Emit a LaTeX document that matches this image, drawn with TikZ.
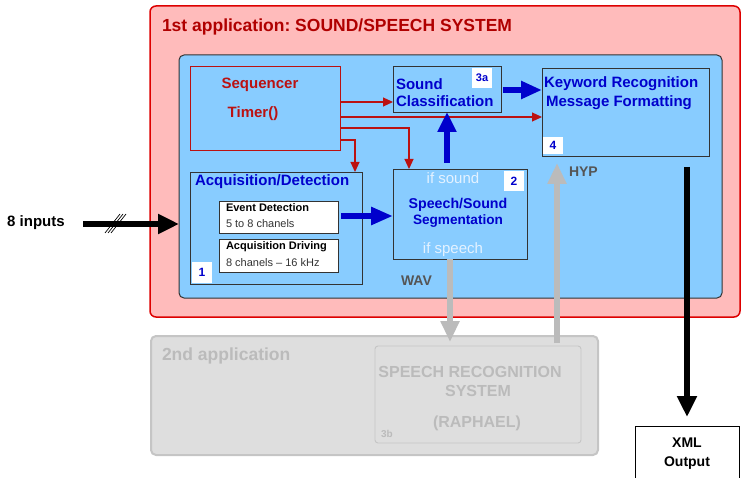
\documentclass[tikz,border=0pt]{standalone}
\usepackage{fontspec}
\setmainfont{Liberation Sans}
\usetikzlibrary{arrows.meta}

\definecolor{appfill}{HTML}{FFBBBB}
\definecolor{appline}{HTML}{DD0000}
\definecolor{apptext}{HTML}{B00000}
\definecolor{skyfill}{HTML}{88CCFF}
\definecolor{boxline}{HTML}{333333}
\definecolor{seqred}{HTML}{BB1111}
\definecolor{deepblue}{HTML}{0000CC}
\definecolor{softgray}{HTML}{BBBBBB}
\definecolor{greyfill}{HTML}{DEDEDE}
\definecolor{labelgray}{HTML}{555555}
\definecolor{paletext}{HTML}{E4F2FF}

\newcommand\fsz[1]{\fontsize{#1}{#1}\selectfont}

\tikzset{
  frame/.style={anchor=north west, inner sep=0, outer sep=0},
  plainbox/.style={frame, draw=boxline, line width=0.9},
  badge/.style={frame, fill=white, text=deepblue, font=\fsz{11}\bfseries},
  lbl/.style={inner sep=0, outer sep=0},
  bluelbl/.style={lbl, text=deepblue, font=\fsz{15}\bfseries},
  redarrow/.style={draw=seqred, line width=1.1, -{Triangle[length=10, width=9]}},
  bluearrow/.style={draw=deepblue, line width=6, -{Triangle[length=20, width=18]}},
  grayarrow/.style={draw=softgray, line width=6, -{Triangle[length=21, width=18]}},
  blackarrow/.style={draw=black, line width=6, -{Triangle[length=21, width=19]}},
}

\begin{document}
\frenchspacing
\begin{tikzpicture}[x=1pt, y=-1pt]
\useasboundingbox (0,0) rectangle (741,478);

% ---- first application frame
\node[frame, draw=appline, fill=appfill, line width=1.5, rounded corners=6,
      minimum width=590, minimum height=311] (app1) at (150,6) {};
\node[lbl, anchor=west, text=apptext, font=\fsz{17.5}\bfseries] (app1t) at (162,27)
  {1st application: SOUND/SPEECH SYSTEM};

\node[frame, draw=boxline, fill=skyfill, line width=1, rounded corners=5,
      minimum width=543, minimum height=243] (core) at (179,55) {};

% ---- sequencer
\node[frame, draw=seqred, line width=0.8, minimum width=150, minimum height=84] (seq) at (190,66) {};
\node[lbl, text=seqred, font=\fsz{15}\bfseries] (seqt) at (260,85) {Sequencer};
\node[lbl, text=seqred, font=\fsz{15}\bfseries] (timer) at (253,114) {Timer()};

% ---- sound classification
\node[plainbox, minimum width=108, minimum height=46] (cls) at (393,66) {};
\node[bluelbl, anchor=west] (clsa) at (396,84) {Sound};
\node[bluelbl, anchor=west] (clsb) at (396,101) {Classification};
\node[badge, minimum width=20, minimum height=20] (b3a) at (472,68) {3a};

% ---- keyword recognition
\node[plainbox, minimum width=167, minimum height=88] (kw) at (542,68) {};
\node[bluelbl, anchor=west] (kwa) at (544,84) {Keyword Recognition};
\node[bluelbl, anchor=west] (kwb) at (546,103) {Message Formatting};
\node[badge, minimum width=20, minimum height=17, font=\fsz{12}\bfseries] (b4) at (543,137) {4};

% ---- acquisition / detection
\node[plainbox, minimum width=172, minimum height=112] (acq) at (190,172) {};
\node[bluelbl, anchor=west] (acqt) at (195,182) {Acquisition/Detection};
\node[frame, draw=boxline, fill=white, line width=0.9, minimum width=119, minimum height=32] (ev) at (219,201) {};
\node[lbl, anchor=west, font=\fsz{11}\bfseries] (eva) at (226,208) {Event Detection};
\node[lbl, anchor=west, font=\fsz{11}, text=black!80] (evb) at (226,224) {5 to 8 chanels};
\node[frame, draw=boxline, fill=white, line width=0.9, minimum width=119, minimum height=33] (drv) at (219,239) {};
\node[lbl, anchor=west, font=\fsz{11}\bfseries] (drva) at (226,247) {Acquisition Driving};
\node[lbl, anchor=west, font=\fsz{11}, text=black!80] (drvb) at (226,263) {8 chanels -- 16 kHz};
\node[badge, minimum width=20, minimum height=21, font=\fsz{12}\bfseries] (b1) at (192,262) {1};

% ---- speech / sound segmentation
\node[plainbox, minimum width=134, minimum height=90] (seg) at (393,169) {};
\node[lbl, text=paletext, font=\fsz{15}] (ifsnd) at (453,178) {if sound};
\node[badge, minimum width=20, minimum height=20, font=\fsz{12}\bfseries] (b2) at (504,171) {2};
\node[lbl, text=deepblue, font=\fsz{14.2}\bfseries] (sega) at (458,205) {Speech/Sound};
\node[lbl, text=deepblue, font=\fsz{13.6}\bfseries] (segb) at (458,221) {Segmentation};
\node[lbl, text=paletext, font=\fsz{15}] (ifsp) at (453,250) {if speech};

\node[lbl, anchor=west, text=labelgray, font=\fsz{14}\bfseries] (wav) at (401,281) {WAV};
\node[lbl, anchor=west, text=labelgray, font=\fsz{14}\bfseries] (hyp) at (569,172) {HYP};

% ---- second application
\node[frame, draw=softgray!85, fill=greyfill, line width=2, rounded corners=5,
      minimum width=447, minimum height=119] (app2) at (151,336) {};
\node[lbl, anchor=west, text=softgray, font=\fsz{17.5}\bfseries] (app2t) at (162,356) {2nd application};
\node[frame, draw=softgray!85, line width=0.9, rounded corners=3,
      minimum width=206, minimum height=97] (sr) at (375,346) {};
\node[lbl, text=softgray, font=\fsz{16}\bfseries] (sra) at (470,372) {SPEECH RECOGNITION};
\node[lbl, text=softgray, font=\fsz{16}\bfseries] (srb) at (478,391) {SYSTEM};
\node[lbl, text=softgray, font=\fsz{16}\bfseries] (src) at (477,423) {(RAPHAEL)};
\node[lbl, anchor=west, text=softgray, font=\fsz{10}\bfseries] (b3b) at (381,434) {3b};

% ---- output
\node[frame, draw=black, line width=0.9, minimum width=104, minimum height=64] (xml) at (635,426) {};
\node[lbl, font=\fsz{14}\bfseries] (xmla) at (687,443) {XML};
\node[lbl, font=\fsz{14}\bfseries] (xmlb) at (687,463) {Output};

% ---- input
\node[lbl, font=\fsz{15}\bfseries] (inp) at (36,223) {8 inputs};
\coordinate (inpend) at (83,224);

% ---- connectors
\draw[blackarrow] (inpend) -- (inpend -| core.west);
\foreach \dx in {0,3,6}
  \draw[line width=0.7] (105+\dx,233) -- (120+\dx,214);

\draw[redarrow] ([yshift=-36pt]seq.north east) -- ([yshift=-36pt]cls.north west);
\draw[redarrow] ([yshift=-51pt]seq.north east) -- ([yshift=-49pt]kw.north west);
\draw[redarrow] ([yshift=-62pt]seq.north east) -| ([xshift=16pt]seg.north west);
\draw[redarrow] ([yshift=-74pt]seq.north east) -| ([xshift=-7pt]acq.north east);

\coordinate (evout) at ([xshift=3pt, yshift=1pt]ev.east);
\draw[draw=deepblue, line width=6, -{Triangle[length=22, width=17]}]
  (evout) -- (evout -| seg.west);
\coordinate (upbase) at ([xshift=-13pt, yshift=6pt]seg.north);
\draw[bluearrow] (upbase) -- (cls.south -| upbase);
\draw[draw=deepblue, line width=6, -{Triangle[length=21, width=17]}]
  ([xshift=2pt, yshift=-24pt]cls.north east) -- ([yshift=-22pt]kw.north west);

\coordinate (wavcol) at ([xshift=-10pt]seg.south);
\coordinate (hypcol) at ([xshift=-24pt]sr.north east);
\draw[grayarrow] (wavcol) -- ([yshift=4pt]sr.north -| wavcol);
\draw[grayarrow] ([yshift=3pt]hypcol) -- ([yshift=-7pt]kw.south -| hypcol);
\draw[blackarrow] ([xshift=-22pt, yshift=-11pt]kw.south east) -- ([yshift=9pt]xml.north);
\end{tikzpicture}
\end{document}
